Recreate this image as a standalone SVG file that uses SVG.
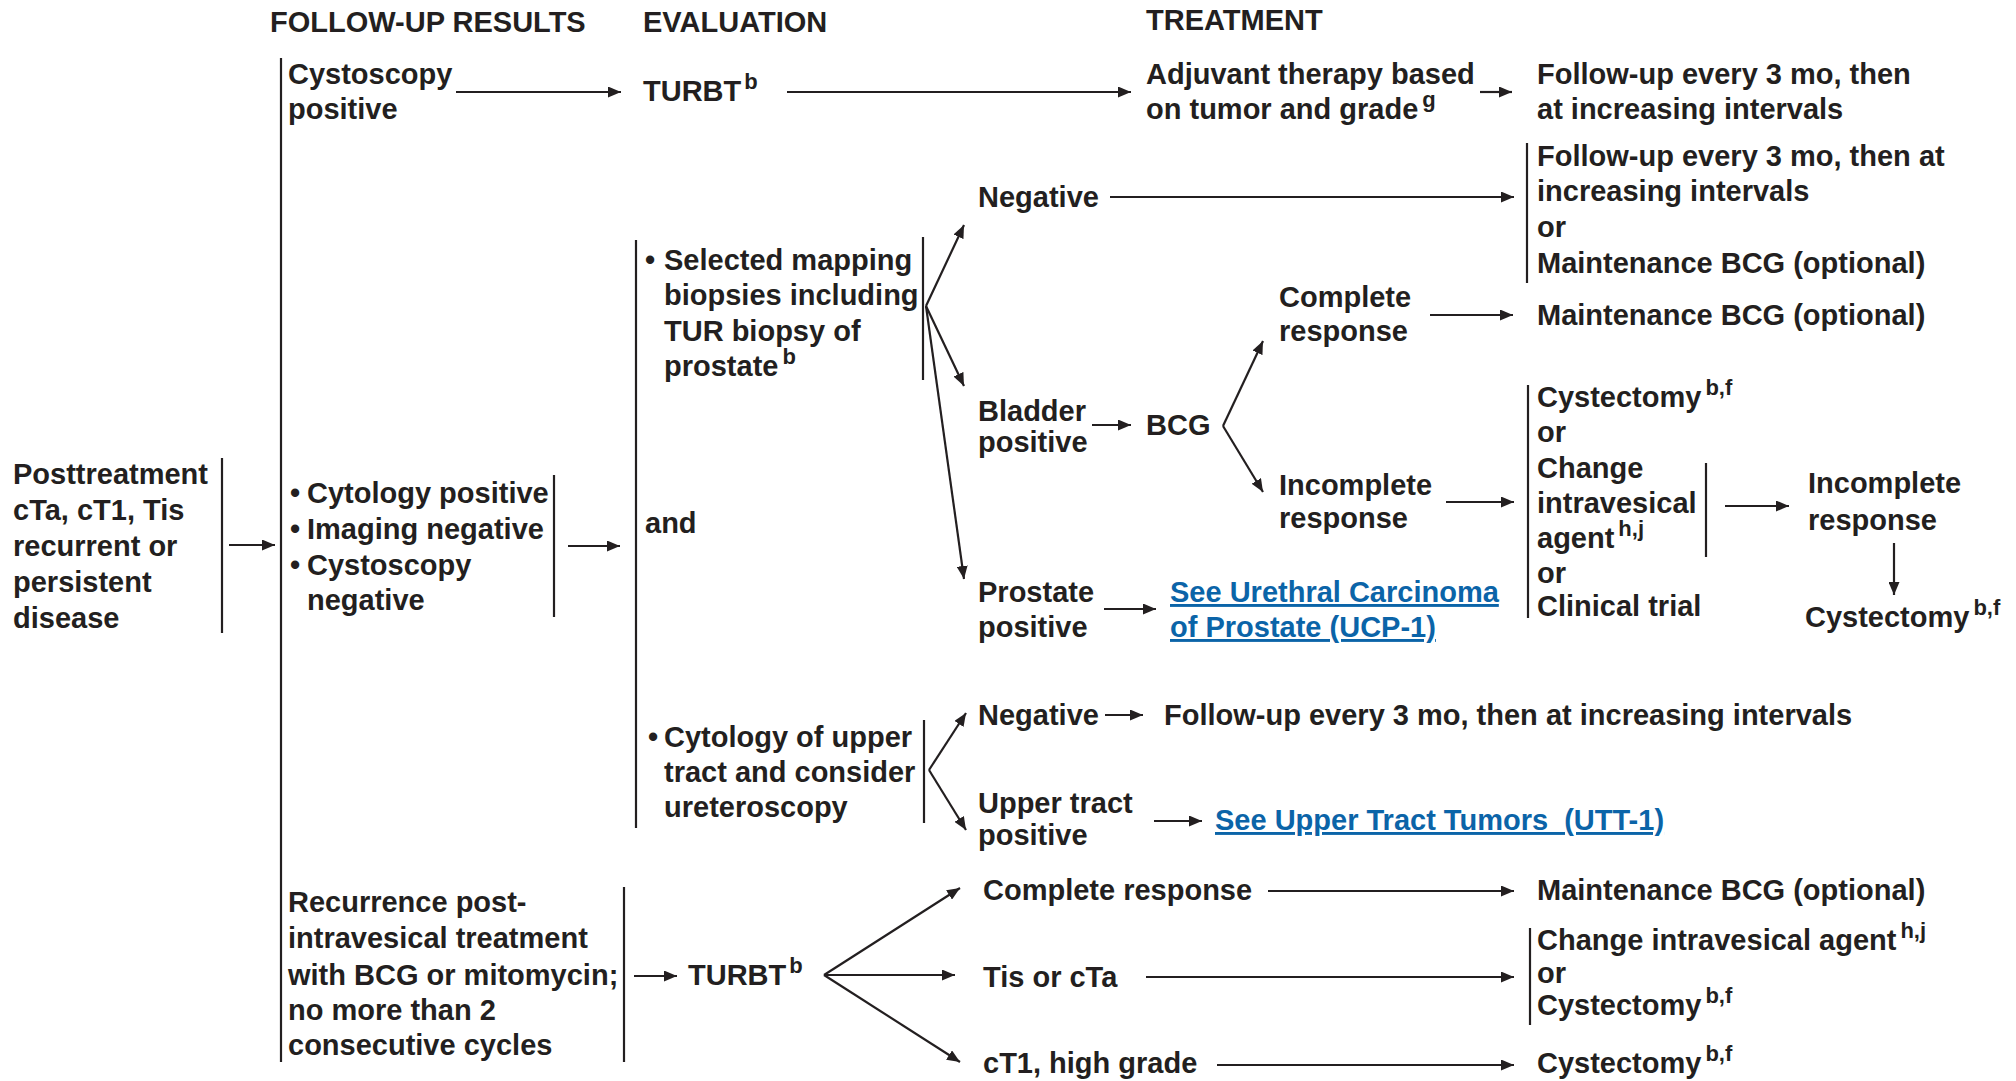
<svg xmlns="http://www.w3.org/2000/svg" width="2016" height="1081" viewBox="0 0 2016 1081">
<style>
text{font-family:"Liberation Sans",Arial,sans-serif;font-weight:bold;font-size:29px;fill:#231f20}
.sup{font-size:22px}
.link{fill:#0b64a8;text-decoration:underline}
.ln{stroke:#231f20;stroke-width:2.2;fill:none}
.ar{stroke:#231f20;stroke-width:2.2;fill:none;marker-end:url(#ah)}
</style>
<defs>
<marker id="ah" markerUnits="userSpaceOnUse" markerWidth="13" markerHeight="11" refX="13" refY="5.5" orient="auto">
<path d="M0,0 L13,5.5 L0,11 z" fill="#231f20"/>
</marker>
</defs>
<rect width="2016" height="1081" fill="#fff"/>

<g id="headers">
<text x="270" y="32">FOLLOW-UP RESULTS</text>
<text x="643" y="32">EVALUATION</text>
<text x="1146" y="30">TREATMENT</text>
</g>

<g id="connectors">
<line class="ln" x1="222" y1="458" x2="222" y2="633"/>
<line class="ln" x1="281" y1="58" x2="281" y2="1062"/>
<line class="ln" x1="554" y1="475" x2="554" y2="617"/>
<line class="ln" x1="636" y1="240" x2="636" y2="828"/>
<line class="ln" x1="923" y1="237" x2="923" y2="380"/>
<line class="ln" x1="924" y1="720" x2="924" y2="823"/>
<line class="ln" x1="1527" y1="143" x2="1527" y2="283"/>
<line class="ln" x1="1528" y1="385" x2="1528" y2="618"/>
<line class="ln" x1="1706" y1="463" x2="1706" y2="557"/>
<line class="ln" x1="624" y1="887" x2="624" y2="1062"/>
<line class="ln" x1="1530" y1="928" x2="1530" y2="1025"/>
<line class="ar" x1="456" y1="92" x2="621" y2="92"/>
<line class="ar" x1="787" y1="92" x2="1131" y2="92"/>
<line class="ar" x1="1480" y1="92" x2="1512" y2="92"/>
<line class="ar" x1="1110" y1="197" x2="1514" y2="197"/>
<line class="ar" x1="926" y1="306" x2="964" y2="225"/>
<line class="ar" x1="926" y1="306" x2="964" y2="386"/>
<line class="ar" x1="926" y1="306" x2="964" y2="579"/>
<line class="ar" x1="1430" y1="315" x2="1513" y2="315"/>
<line class="ar" x1="1092" y1="425" x2="1131" y2="425"/>
<line class="ar" x1="1223" y1="426" x2="1263" y2="341"/>
<line class="ar" x1="1223" y1="426" x2="1263" y2="492"/>
<line class="ar" x1="1446" y1="502" x2="1514" y2="502"/>
<line class="ar" x1="1725" y1="506" x2="1789" y2="506"/>
<line class="ar" x1="1894" y1="543" x2="1894" y2="595"/>
<line class="ar" x1="229" y1="545" x2="275" y2="545"/>
<line class="ar" x1="568" y1="546" x2="620" y2="546"/>
<line class="ar" x1="1104" y1="609" x2="1156" y2="609"/>
<line class="ar" x1="1105" y1="715" x2="1143" y2="715"/>
<line class="ar" x1="929" y1="770" x2="966" y2="713"/>
<line class="ar" x1="929" y1="770" x2="966" y2="830"/>
<line class="ar" x1="1154" y1="821" x2="1202" y2="821"/>
<line class="ar" x1="634" y1="976" x2="677" y2="976"/>
<line class="ar" x1="824" y1="975" x2="960" y2="888"/>
<line class="ar" x1="824" y1="975" x2="955" y2="975"/>
<line class="ar" x1="824" y1="975" x2="960" y2="1062"/>
<line class="ar" x1="1268" y1="891" x2="1514" y2="891"/>
<line class="ar" x1="1146" y1="977" x2="1514" y2="977"/>
<line class="ar" x1="1217" y1="1065" x2="1514" y2="1065"/>
</g>

<g id="n-posttreatment">
<text x="13" y="484">Posttreatment</text>
<text x="13" y="520">cTa, cT1, Tis</text>
<text x="13" y="556">recurrent or</text>
<text x="13" y="592">persistent</text>
<text x="13" y="628">disease</text>
</g>

<g id="n-cysto-pos">
<text x="288" y="84">Cystoscopy</text>
<text x="288" y="119">positive</text>
</g>

<g id="n-turbt1"><text x="643" y="101">TURBT<tspan class="sup" dx="3" dy="-12">b</tspan></text></g>

<g id="n-adjuvant">
<text x="1146" y="84">Adjuvant therapy based</text>
<text x="1146" y="119">on tumor and grade<tspan class="sup" dx="4" dy="-12">g</tspan></text>
</g>

<g id="n-followup1">
<text x="1537" y="84">Follow-up every 3 mo, then</text>
<text x="1537" y="119">at increasing intervals</text>
</g>

<g id="n-cytology-pos">
<text x="290" y="503">•</text><text x="307" y="503">Cytology positive</text>
<text x="290" y="539">•</text><text x="307" y="539">Imaging negative</text>
<text x="290" y="575">•</text><text x="307" y="575">Cystoscopy</text>
<text x="307" y="610">negative</text>
</g>

<g id="n-and"><text x="645" y="533">and</text></g>

<g id="n-mapping">
<text x="645" y="270">•</text><text x="664" y="270">Selected mapping</text>
<text x="664" y="305">biopsies including</text>
<text x="664" y="341">TUR biopsy of</text>
<text x="664" y="376">prostate<tspan class="sup" dx="4" dy="-12">b</tspan></text>
</g>

<g id="n-negative1"><text x="978" y="207">Negative</text></g>

<g id="n-followup2">
<text x="1537" y="166">Follow-up every 3 mo, then at</text>
<text x="1537" y="201">increasing intervals</text>
<text x="1537" y="237">or</text>
<text x="1537" y="273">Maintenance BCG (optional)</text>
</g>

<g id="n-bladder">
<text x="978" y="421">Bladder</text>
<text x="978" y="452">positive</text>
</g>

<g id="n-bcg"><text x="1146" y="435">BCG</text></g>

<g id="n-complete1">
<text x="1279" y="307">Complete</text>
<text x="1279" y="341">response</text>
</g>

<g id="n-maint1"><text x="1537" y="325">Maintenance BCG (optional)</text></g>

<g id="n-incomplete1">
<text x="1279" y="495">Incomplete</text>
<text x="1279" y="528">response</text>
</g>

<g id="n-cystectomy-options">
<text x="1537" y="407">Cystectomy<tspan class="sup" dx="4" dy="-12">b,f</tspan></text>
<text x="1537" y="442">or</text>
<text x="1537" y="478">Change</text>
<text x="1537" y="513">intravesical</text>
<text x="1537" y="548">agent<tspan class="sup" dx="4" dy="-12">h,j</tspan></text>
<text x="1537" y="583">or</text>
<text x="1537" y="616">Clinical trial</text>
</g>

<g id="n-incomplete2">
<text x="1808" y="493">Incomplete</text>
<text x="1808" y="530">response</text>
</g>

<g id="n-cystectomy1"><text x="1805" y="627">Cystectomy<tspan class="sup" dx="4" dy="-12">b,f</tspan></text></g>

<g id="n-prostate">
<text x="978" y="602">Prostate</text>
<text x="978" y="637">positive</text>
</g>

<g id="n-ucp">
<text class="link" x="1170" y="602">See Urethral Carcinoma</text>
<text class="link" x="1170" y="637">of Prostate (UCP-1)</text>
</g>

<g id="n-upper-cytology">
<text x="648" y="747">•</text><text x="664" y="747">Cytology of upper</text>
<text x="664" y="782">tract and consider</text>
<text x="664" y="817">ureteroscopy</text>
</g>

<g id="n-negative2"><text x="978" y="725">Negative</text></g>
<g id="n-followup3"><text x="1164" y="725">Follow-up every 3 mo, then at increasing intervals</text></g>

<g id="n-upper-pos">
<text x="978" y="813">Upper tract</text>
<text x="978" y="845">positive</text>
</g>

<g id="n-utt"><text class="link" x="1215" y="830" style="white-space:pre">See Upper Tract Tumors  (UTT-1)</text></g>

<g id="n-recurrence">
<text x="288" y="912">Recurrence post-</text>
<text x="288" y="948">intravesical treatment</text>
<text x="288" y="985">with BCG or mitomycin;</text>
<text x="288" y="1020">no more than 2</text>
<text x="288" y="1055">consecutive cycles</text>
</g>

<g id="n-turbt2"><text x="688" y="985">TURBT<tspan class="sup" dx="3" dy="-12">b</tspan></text></g>

<g id="n-complete2"><text x="983" y="900">Complete response</text></g>
<g id="n-tis"><text x="983" y="987">Tis or cTa</text></g>
<g id="n-ct1"><text x="983" y="1073">cT1, high grade</text></g>

<g id="n-maint2"><text x="1537" y="900">Maintenance BCG (optional)</text></g>

<g id="n-change2">
<text x="1537" y="950">Change intravesical agent<tspan class="sup" dx="4" dy="-12">h,j</tspan></text>
<text x="1537" y="983">or</text>
<text x="1537" y="1015">Cystectomy<tspan class="sup" dx="4" dy="-12">b,f</tspan></text>
</g>

<g id="n-cystectomy2"><text x="1537" y="1073">Cystectomy<tspan class="sup" dx="4" dy="-12">b,f</tspan></text></g>
</svg>
